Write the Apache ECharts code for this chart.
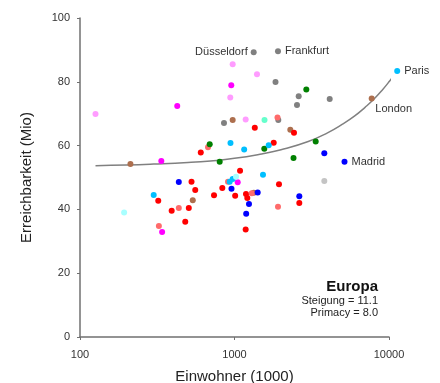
<!DOCTYPE html>
<html>
<head>
<meta charset="utf-8">
<script src="https://cdn.jsdelivr.net/npm/echarts@6/dist/echarts.min.js"></script>
<style>
html,body{margin:0;padding:0;background:#fff;}
#chart{width:440px;height:383px;}
</style>
</head>
<body>
<div id="chart"></div>
<script>
// Data: [population (1000), reachability (Mio), optional city label]
const gray = [[1331,89.3,'Düsseldorf'],[1912,89.6,'Frankfurt'],[1843,79.9],[2603,75.5],[2538,72.7],[4132,74.6],[855,67.1],[1921,68.0]];
const lightGray = [[3813,48.9]];
const brown = [[7727,74.8,'London'],[973,68.0],[2297,65.0],[212,54.2],[537,42.9],[1333,45.2]];
const magenta = [[953,78.9],[426,72.4],[336,55.2],[1049,48.5],[340,32.9]];
const pink = [[973,85.5],[1398,82.4],[939,75.1],[1181,68.2],[126,69.9]];
const red = [[1353,65.6],[2427,64.0],[1794,60.9],[605,57.8],[1086,52.1],[527,48.7],[557,46.1],[834,46.7],[737,44.4],[1010,44.3],[1187,44.8],[1210,43.6],[1181,33.7],[1941,47.9],[2627,42.0],[321,42.7],[392,39.6],[506,40.4],[480,36.1]];
const salmon = [[1898,68.8],[674,59.5],[908,48.7],[436,40.4],[324,34.8],[1912,40.8],[1293,45.1]];
const green = [[2916,77.6],[691,60.4],[802,54.9],[1559,59.0],[3354,61.3],[2410,56.1]];
const cyan = [[11300,83.4,'Paris'],[942,60.8],[1155,58.8],[1665,60.1],[1529,50.9],[300,44.5],[931,48.7],[973,49.5]];
const lightCyan = [[193,39.0],[1023,50.2]];
const aquamarine = [[1564,68.0]];
const blue = [[5152,54.9,'Madrid'],[3813,57.6],[436,48.6],[956,46.5],[1413,45.3],[1241,41.7],[1190,38.6],[2627,44.1]];
// Fitted curve
const curvePop = [126,200,300,500,700,1000,1500,2000,3000,4000,5000,6000,7000,8000,9000,10000,11300];
const curveVal = [53.7,53.9,54.2,54.7,55.2,56.0,57.4,58.7,61.3,64.0,66.7,69.3,72.0,74.6,77.3,80.0,83.4];
const xTicks = [100,1000,10000];
const yTicks = [0,20,40,60,80,100];
const regionName = 'Europa';
const statLines = ['Steigung = 11.1','Primacy = 8.0'];

const labelPos = {
  'Düsseldorf': {position:'left', distance:3},
  'Frankfurt': {position:'right', distance:4},
  'Paris': {position:'right', distance:4},
  'London': {position:'bottom', distance:2, offset:[22,0]},
  'Madrid': {position:'right', distance:4}
};

const groups = [
  [gray,'#808080'],[lightGray,'#c4c4c4'],[brown,'#ad6f4e'],[magenta,'#ff00ff'],
  [pink,'#ff9cff'],[red,'#ff0000'],[salmon,'#ff6b6b'],[green,'#008000'],
  [cyan,'#00bfff'],[lightCyan,'#a8ffff'],[aquamarine,'#66ffcc'],[blue,'#0000ff']
];

const font = 'Liberation Sans, Arial, sans-serif';

const series = [{
  type:'line',
  data: curvePop.map((p,i)=>[p,curveVal[i]]),
  showSymbol:false,
  smooth:true,
  clip:false,
  lineStyle:{color:'#808080',width:1.5},
  silent:true,
  z:1
}];
groups.forEach(([arr,color])=>{
  series.push({
    type:'scatter',
    clip:false,
    symbolSize:6,
    itemStyle:{color:color,opacity:1},
    z:3,
    data: arr.map(d=>{
      const item = {value:[d[0],d[1]]};
      if (d[2]) {
        const lp = labelPos[d[2]] || {position:'right'};
        item.label = Object.assign({show:true, formatter:d[2], color:'#333', fontSize:11, fontFamily:font}, lp);
      }
      return item;
    })
  });
});

const chart = echarts.init(document.getElementById('chart'), null, {renderer:'canvas'});
chart.setOption({
  animation:false,
  backgroundColor:'#fff',
  grid:{left:80,right:51,top:18,bottom:46,containLabel:false,outerBoundsMode:'none'},
  xAxis:{
    type:'log', logBase:10, min:xTicks[0], max:xTicks[xTicks.length-1],
    name:'Einwohner (1000)', nameLocation:'middle', nameGap:32,
    nameTextStyle:{fontSize:15,color:'#222',fontFamily:font},
    axisLine:{lineStyle:{color:'#707070',width:1.5}},
    axisTick:{show:true,length:3,lineStyle:{color:'#707070'}},
    axisLabel:{fontSize:11,color:'#333',fontFamily:font,margin:12,formatter:v=>String(Math.round(v))},
    splitLine:{show:false},
    minorTick:{show:false}
  },
  yAxis:{
    type:'value', min:yTicks[0], max:yTicks[yTicks.length-1], interval:20,
    name:'Erreichbarkeit (Mio)', nameLocation:'middle', nameGap:46,
    nameTextStyle:{fontSize:15,color:'#222',fontFamily:font},
    axisLine:{show:true,lineStyle:{color:'#707070',width:1.5}},
    axisTick:{show:true,length:3,lineStyle:{color:'#707070'}},
    axisLabel:{fontSize:11,color:'#333',fontFamily:font,margin:10},
    splitLine:{show:false}
  },
  graphic:[
    {type:'text', right:62, top:279, style:{text:regionName, fontSize:15, fontWeight:'bold', fill:'#111', fontFamily:font, textAlign:'right'}},
    {type:'text', right:62, top:295, style:{text:statLines[0], fontSize:11, fill:'#222', fontFamily:font, textAlign:'right'}},
    {type:'text', right:62, top:307, style:{text:statLines[1], fontSize:11, fill:'#222', fontFamily:font, textAlign:'right'}}
  ],
  series: series
});
</script>
</body>
</html>
